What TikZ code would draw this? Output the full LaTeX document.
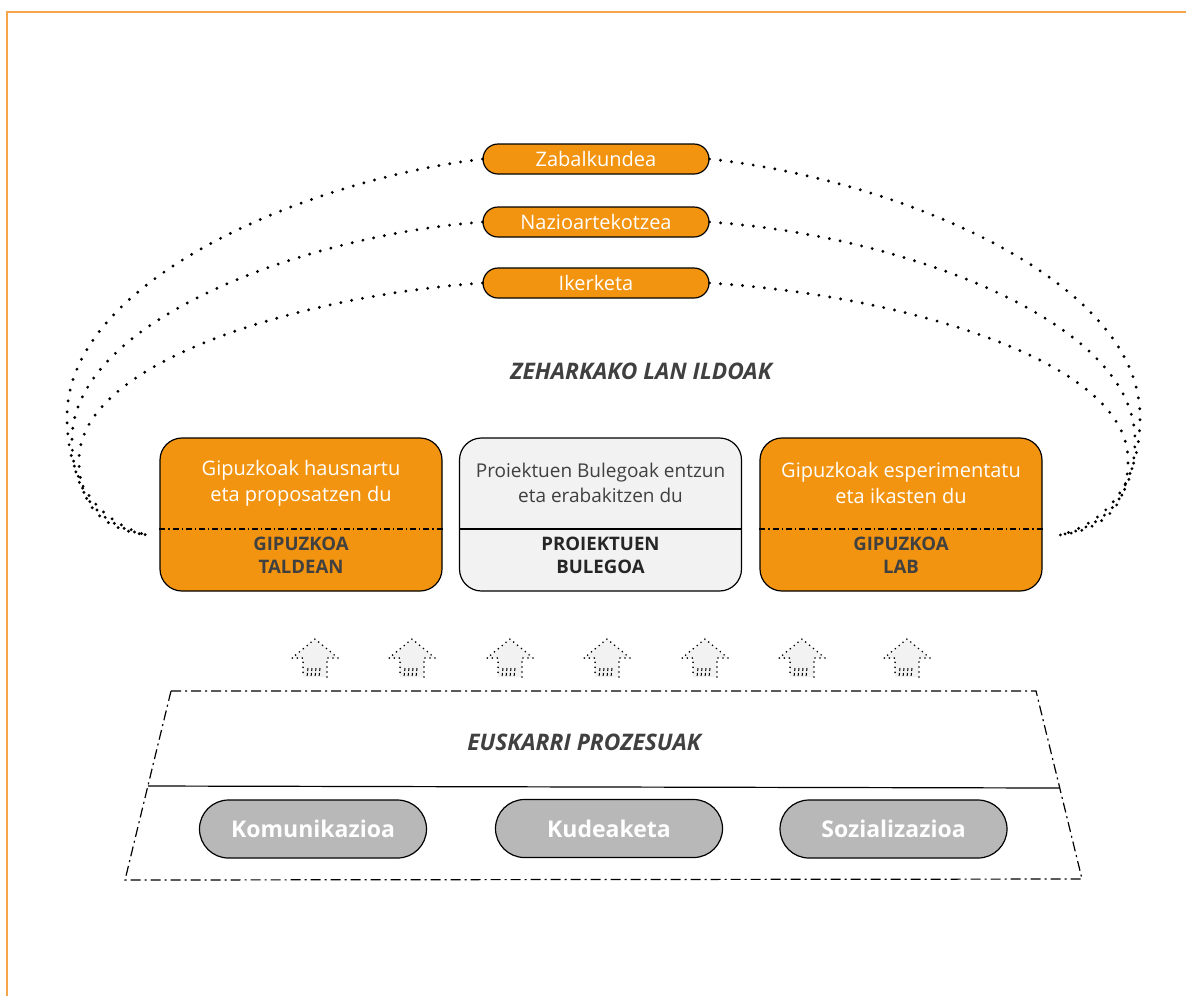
\documentclass[tikz,border=0pt]{standalone}
\usepackage{fontspec}
\setmainfont{Open Sans}
\usepackage{xcolor}
\usepackage{tikz}
\usetikzlibrary{shapes.misc}
\definecolor{ornj}{HTML}{F29410}
\definecolor{framec}{HTML}{F7A54B}
\definecolor{txtgray}{HTML}{404040}
\definecolor{pillgray}{HTML}{B8B8B8}
\definecolor{boxgray}{HTML}{F2F2F2}

\begin{document}
\begin{tikzpicture}[x=0.5pt,y=-0.5pt,
  linepill/.style={rounded rectangle,draw,line width=0.6pt,fill=ornj,text=white,minimum width=113pt,minimum height=15pt,inner sep=0pt,font=\fontsize{10}{12}\selectfont},
  procpill/.style={rounded rectangle,draw,line width=0.6pt,fill=pillgray,text=white,minimum width=113.5pt,minimum height=29pt,inner sep=0pt,font=\fontsize{11.5}{13}\selectfont\bfseries},
  mainbox/.style={draw,line width=0.6pt,rounded corners=11pt,minimum width=141pt,minimum height=76.5pt,inner sep=0pt},
  toptext/.style={align=center,inner sep=0pt,font=\fontsize{10}{13}\selectfont},
  boxlabel/.style={align=center,inner sep=0pt,text=txtgray,font=\fontsize{9.3}{11.5}\selectfont\bfseries},
  heading/.style={text=txtgray,inner sep=0pt,font=\fontsize{11.4}{13}\selectfont\bfseries\itshape},
  loop/.style={line width=1.6pt,line cap=round,dash pattern=on 0pt off 5.5pt},
  dashdot/.style={line width=0.6pt,dash pattern=on 5pt off 2pt on 1pt off 2pt},
  boxsplit/.style={line width=0.6pt,dash pattern=on 3pt off 1.5pt on 0.6pt off 1.5pt},
  uparrow/.style={line width=0.9pt,line cap=round,dash pattern=on 0pt off 2.5pt},
  hatch/.style={line width=0.5pt,dash pattern=on 1.5pt off 1pt}]
%
\useasboundingbox (0,0) rectangle (1186,996);
\draw[framec,line width=1pt] (7,996) -- (7,12) -- (1186,12);
%
\node[linepill] (zabal) at (596,159) {Zabalkundea};
\node[linepill] (nazio) at (596,222) {Nazioartekotzea};
\node[linepill] (iker) at (596,283) {Ikerketa};
\node[heading] (zeharka) at (641,371) {ZEHARKAKO LAN ILDOAK};
%
\node[mainbox,fill=ornj] (taldean) at (301,514.5) {};
\node[mainbox,fill=boxgray] (bulegoa) at (600.5,514.5) {};
\node[mainbox,fill=ornj] (lab) at (901,514.5) {};
\coordinate (split) at (0,529);
\draw[boxsplit] (taldean.west |- split) -- (taldean.east |- split);
\draw[line width=0.6pt] (bulegoa.west |- split) -- (bulegoa.east |- split);
\draw[boxsplit] (lab.west |- split) -- (lab.east |- split);
\node[toptext,text=white] (taldeantxt) at (301,483) {Gipuzkoak hausnartu\\eta proposatzen du};
\node[toptext,text=txtgray,font=\fontsize{9.5}{12.5}\selectfont] (bulegoatxt) at (600.5,483) {Proiektuen Bulegoak entzun\\eta erabakitzen du};
\node[toptext,text=white] (labtxt) at (901,483) {Gipuzkoak esperimentatu\\eta ikasten du};
\node[boxlabel] (taldeanlbl) at (301,555) {GIPUZKOA\\TALDEAN};
\node[boxlabel,text=black!85] (bulegoalbl) at (600.5,555) {PROIEKTUEN\\BULEGOA};
\node[boxlabel] (lablbl) at (901,555) {GIPUZKOA\\LAB};
%
\coordinate (lend) at (147,535);
\coordinate (rend) at (1060,535);
\draw[loop] (zabal.east) .. controls (900,180) and (1140,280) .. (1140,417) .. controls (1140,490) and (1100,525) .. (rend);
\draw[loop] (nazio.east) .. controls (900,235) and (1135,320) .. (1135,440) .. controls (1135,500) and (1100,528) .. (rend);
\draw[loop] (iker.east) .. controls (900,295) and (1128,360) .. (1128,460) .. controls (1128,510) and (1100,530) .. (rend);
\draw[loop] (zabal.west) .. controls (307,180) and (67,280) .. (67,417) .. controls (67,490) and (107,525) .. (lend);
\draw[loop] (nazio.west) .. controls (307,235) and (72,320) .. (72,440) .. controls (72,500) and (107,528) .. (lend);
\draw[loop] (iker.west) .. controls (307,295) and (79,360) .. (79,460) .. controls (79,510) and (107,530) .. (lend);
%
\foreach \ax in {315,412,510,607,705,802,907} {
  \fill[boxgray] (\ax,639) -- (\ax+23,658) -- (\ax+12,658) -- (\ax+12,677) -- (\ax-12,677) -- (\ax-12,658) -- (\ax-23,658) -- cycle;
  \draw[uparrow] (\ax+12,677) -- (\ax+12,658) -- (\ax+23,658) -- (\ax,639) -- (\ax-23,658) -- (\ax-12,658) -- (\ax-12,677);
  \foreach \hx in {-7,-3,1,5} \draw[hatch] (\ax+\hx,668) -- (\ax+\hx-1,677);
}
%
\coordinate (tl) at (171,691);
\coordinate (tr) at (1036,691);
\coordinate (br) at (1082,879);
\coordinate (bl) at (125,880);
\draw[dashdot] (tl) -- (tr) -- (br) -- (bl) -- cycle;
\coordinate (sepl) at (148,786);
\coordinate (sepr) at (1060,788);
\draw[line width=0.6pt] (sepl) -- (sepr);
\node[heading] (euskarri) at (584,742) {EUSKARRI PROZESUAK};
%
\node[procpill] (komun) at (313,829) {Komunikazioa};
\node[procpill] (kudea) at (609,828.5) {Kudeaketa};
\node[procpill] (sozial) at (893.5,829) {Sozializazioa};
%
\end{tikzpicture}
\end{document}
